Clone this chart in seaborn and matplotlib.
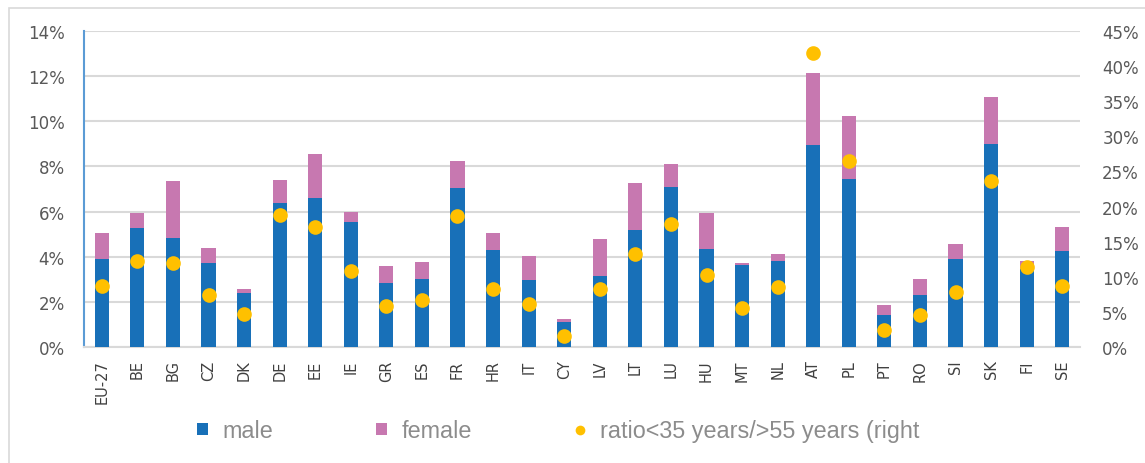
import matplotlib
matplotlib.use("Agg")
import matplotlib.pyplot as plt
import seaborn as sns
import numpy as np
import pandas as pd
from matplotlib.patches import Patch, Rectangle
from matplotlib.lines import Line2D
from matplotlib.ticker import FuncFormatter

countries = ["EU-27", "BE", "BG", "CZ", "DK", "DE", "EE", "IE", "GR", "ES", "FR", "HR", "IT", "CY",
             "LV", "LT", "LU", "HU", "MT", "NL", "AT", "PL", "PT", "RO", "SI", "SK", "FI", "SE"]
male = [3.9, 5.26, 4.85, 3.71, 2.39, 6.40, 6.62, 5.52, 2.84, 3.03, 7.03, 4.30, 2.97, 1.11,
        3.16, 5.17, 7.08, 4.34, 3.62, 3.80, 8.95, 7.44, 1.43, 2.30, 3.90, 8.99, 3.44, 4.25]
female = [1.17, 0.68, 2.49, 0.68, 0.17, 0.99, 1.95, 0.46, 0.77, 0.72, 1.23, 0.77, 1.05, 0.15,
          1.61, 2.10, 1.02, 1.60, 0.09, 0.31, 3.19, 2.78, 0.42, 0.71, 0.68, 2.10, 0.36, 1.05]
ratio = [8.7, 12.2, 12.0, 7.4, 4.7, 18.8, 17.1, 10.8, 5.9, 6.65, 18.7, 8.3, 6.1, 1.5,
         8.3, 13.2, 17.5, 10.2, 5.6, 8.55, 41.8, 26.55, 2.4, 4.5, 7.9, 23.6, 11.35, 8.7]

left_ticks = [0, 2, 4, 6, 8, 10, 12, 14]
right_ticks = [0, 5, 10, 15, 20, 25, 30, 35, 40, 45]
legend_labels = ["male", "female", "ratio<35 years/>55 years (right"]

BLUE = "#1870b8"
PINK = "#c778b0"
ORANGE = "#ffc000"
GRID = "#d9d9d9"

df = pd.DataFrame({"country": countries, "male": male, "female": female, "ratio": ratio})
df["total"] = df["male"] + df["female"]

sns.set_theme(style="white")
plt.rcParams["font.family"] = ["DejaVu Sans"]

fig = plt.figure(figsize=(11.45, 4.64), dpi=100)
ax = fig.add_axes([84 / 1145, 1 - 348 / 464, 996 / 1145, 316 / 464])

sns.barplot(data=df, x="country", y="total", color=PINK, width=0.4, ax=ax,
            saturation=1, zorder=2, linewidth=0)
sns.barplot(data=df, x="country", y="male", color=BLUE, width=0.4, ax=ax,
            saturation=1, zorder=3, linewidth=0)

ax.set_ylim(0, 14)
ax.set_xlim(-0.5, len(countries) - 0.5)
ax.set_yticks(left_ticks)
ax.yaxis.set_major_formatter(FuncFormatter(lambda v, p: f"{v:.0f}%"))
ax.set_xlabel("")
ax.set_ylabel("")
ax.grid(axis="y", color=GRID, linewidth=1.5, zorder=0)
ax.set_axisbelow(True)
for s in ["top", "right"]:
    ax.spines[s].set_visible(False)
ax.spines["left"].set_color("#5b9bd5")
ax.spines["left"].set_linewidth(1.5)
ax.spines["bottom"].set_color(GRID)
ax.spines["bottom"].set_linewidth(1.5)
ax.tick_params(axis="y", length=0, labelsize=12, labelcolor="#595959", pad=14)
ax.tick_params(axis="x", length=0, labelsize=10.5, labelcolor="#404040", pad=9)
plt.setp(ax.get_xticklabels(), rotation=90)

ax2 = ax.twinx()
sns.pointplot(data=df, x="country", y="ratio", ax=ax2, color=ORANGE, linestyle="none",
              markers="o", markersize=8.5, zorder=5)
ax2.set_ylim(0, 45)
ax2.set_xlim(-0.5, len(countries) - 0.5)
ax2.set_yticks(right_ticks)
ax2.yaxis.set_major_formatter(FuncFormatter(lambda v, p: f"{v:.0f}%"))
ax2.set_ylabel("")
ax2.set_xlabel("")
for s in ["top", "right", "left", "bottom"]:
    ax2.spines[s].set_visible(False)
ax2.tick_params(axis="y", length=0, labelsize=12, labelcolor="#595959", pad=16)
ax2.grid(False)

handles = [Patch(facecolor=BLUE, edgecolor="none"),
           Patch(facecolor=PINK, edgecolor="none"),
           Line2D([0], [0], marker="o", color="none", markerfacecolor=ORANGE,
                  markeredgecolor="none", markersize=7)]
leg = fig.legend(handles, legend_labels, loc="center left",
                 bbox_to_anchor=(197 / 1145, 1 - 432 / 464), ncol=3, frameon=False,
                 prop={"family": "Liberation Sans", "size": 16.8},
                 handlelength=0.45, handleheight=0.45, handletextpad=0.65,
                 columnspacing=4.4, borderpad=0, borderaxespad=0)
for t in leg.get_texts():
    t.set_color("#8c8c8c")

fig.patches.append(Rectangle((9 / 1145, -0.2), 1.2, 1.2 - 9 / 464, transform=fig.transFigure,
                             fill=False, edgecolor=GRID, linewidth=1.2, clip_on=False))

fig.savefig("out.png", dpi=100, facecolor="white")
